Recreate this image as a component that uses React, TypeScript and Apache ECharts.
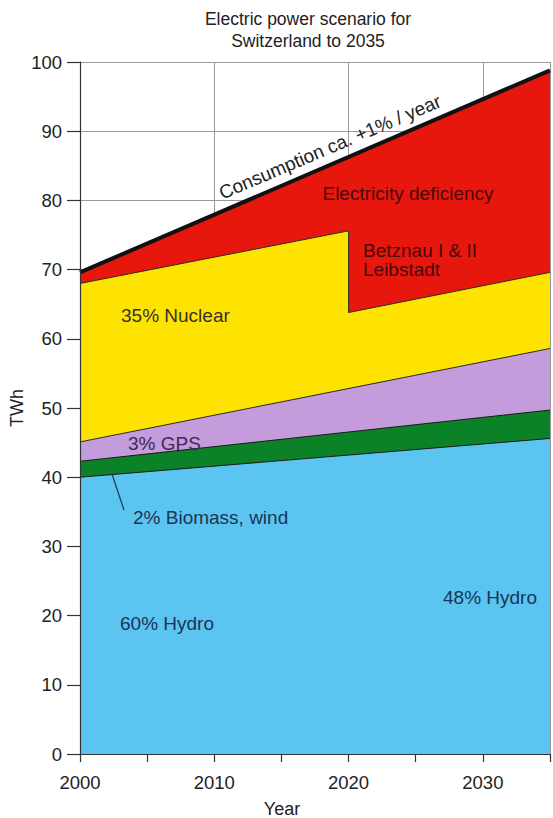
import React, { useEffect, useRef } from "react";
import * as echarts from "echarts";

// ---- data (TWh, cumulative top of each layer) ----
const years = [2000, 2035];
const hydroTop = [40, 45.6];
const biomassTop = [42.3, 49.7];
const gpsTop = [45.1, 58.6];
const nuclearYears = [2000, 2020, 2020, 2035];
const nuclearTop = [68, 75.6, 63.8, 69.6];
const consumption = [69.6, 98.8];
const xTicks = [2000, 2010, 2020, 2030];

const FONT = '"Liberation Sans", Arial, Helvetica, sans-serif';

const pairs = (xs: number[], ys: number[]) => xs.map((x, i) => [x, ys[i]]);

function txt(text: string, x: number, y: number, fill: string, size = 19, rotation = 0, align = "left") {
  return {
    type: "text",
    x,
    y,
    rotation,
    z: 100,
    silent: true,
    style: {
      text,
      fill,
      font: `${size}px ${FONT}`,
      textAlign: align,
      align,
      textVerticalAlign: "middle",
      verticalAlign: "middle",
    },
  };
}

export default function App() {
  const ref = useRef<HTMLDivElement>(null);
  useEffect(() => {
    document.body.style.margin = "0";
    const chart = echarts.init(ref.current!, null, { renderer: "svg" });
    const areaSeries = (name: string, data: number[][], color: string, lineColor: string, lineWidth: number) => ({
      name,
      type: "line",
      data,
      xAxisIndex: 0,
      yAxisIndex: 0,
      symbol: "none",
      silent: true,
      lineStyle: { color: lineColor, width: lineWidth },
      areaStyle: { color, opacity: 1 },
    });
    chart.setOption({
      animation: false,
      grid: { left: 80, right: 0, top: 62, bottom: 64, containLabel: false },
      xAxis: [
        {
          type: "value",
          min: 2000,
          max: 2035,
          interval: 5,
          z: 10,
          axisLine: { show: true, lineStyle: { color: "#333", width: 1.2 } },
          axisTick: { show: true, length: 8, lineStyle: { color: "#333", width: 1.2 } },
          axisLabel: {
            margin: 19,
            fontSize: 18.5,
            color: "#222",
            fontFamily: FONT,
            formatter: (v: number) => (xTicks.includes(v) ? String(v) : ""),
          },
          splitLine: { show: false },
        },
        {
          type: "value",
          min: 2000,
          max: 2035,
          interval: 10,
          position: "bottom",
          axisLine: { show: false },
          axisTick: { show: false },
          axisLabel: { show: false },
          splitLine: { show: true, lineStyle: { color: "#999", width: 1 } },
        },
      ],
      yAxis: [
        {
          type: "value",
          min: 0,
          max: 100,
          interval: 10,
          z: 10,
          axisLine: { show: true, lineStyle: { color: "#333", width: 1.2 } },
          axisTick: { show: true, length: 13, inside: false, lineStyle: { color: "#333", width: 1.2 } },
          axisLabel: { margin: 18, fontSize: 18.5, color: "#222", fontFamily: FONT },
          splitLine: { show: false },
        },
        {
          type: "value",
          min: 0,
          max: 100,
          interval: 10,
          axisLine: { show: false },
          axisTick: { show: false },
          axisLabel: { show: false },
          splitLine: { show: true, lineStyle: { color: "#999", width: 1 } },
        },
      ],
      series: [
        areaSeries("Consumption", pairs(years, consumption), "#e8170e", "#111", 4),
        areaSeries("Nuclear", pairs(nuclearYears, nuclearTop), "#ffe300", "#2a2a2a", 1),
        areaSeries("GPS", pairs(years, gpsTop), "#c49bdb", "#2a2a2a", 1),
        areaSeries("Biomass, wind", pairs(years, biomassTop), "#0c8228", "#1a1a1a", 1),
        areaSeries("Hydro", pairs(years, hydroTop), "#5bc4f1", "#1a1a1a", 1),
      ],
      graphic: [
        txt("Electric power scenario for", 308, 19, "#222", 17.5, 0, "center"),
        txt("Switzerland to 2035", 308, 41, "#222", 17.5, 0, "center"),
        txt("TWh", 17, 408, "#222", 18, Math.PI / 2, "center"),
        txt("Year", 282, 809, "#222", 18, 0, "center"),
        txt("Consumption ca. +1% / year", 330, 147, "#222", 19, (23 * Math.PI) / 180, "center"),
        txt("Electricity deficiency", 408, 193, "#4a0808", 19, 0, "center"),
        txt("Betznau I & II", 363, 250, "#4a0808", 19),
        txt("Leibstadt", 363, 269, "#4a0808", 19),
        txt("35% Nuclear", 121, 315, "#333", 19),
        txt("3% GPS", 128, 443, "#3d2a55", 19),
        txt("2% Biomass, wind", 133, 517, "#1a3555", 19),
        txt("60% Hydro", 120, 623, "#1a3555", 19),
        txt("48% Hydro", 443, 597, "#1a3555", 19),
        {
          type: "line",
          z: 100,
          silent: true,
          shape: { x1: 112, y1: 474, x2: 124, y2: 510 },
          style: { stroke: "#1a3555", lineWidth: 1.2 },
        },
      ],
    });
    return () => chart.dispose();
  }, []);
  return <div ref={ref} style={{ width: 553, height: 818 }} />;
}
